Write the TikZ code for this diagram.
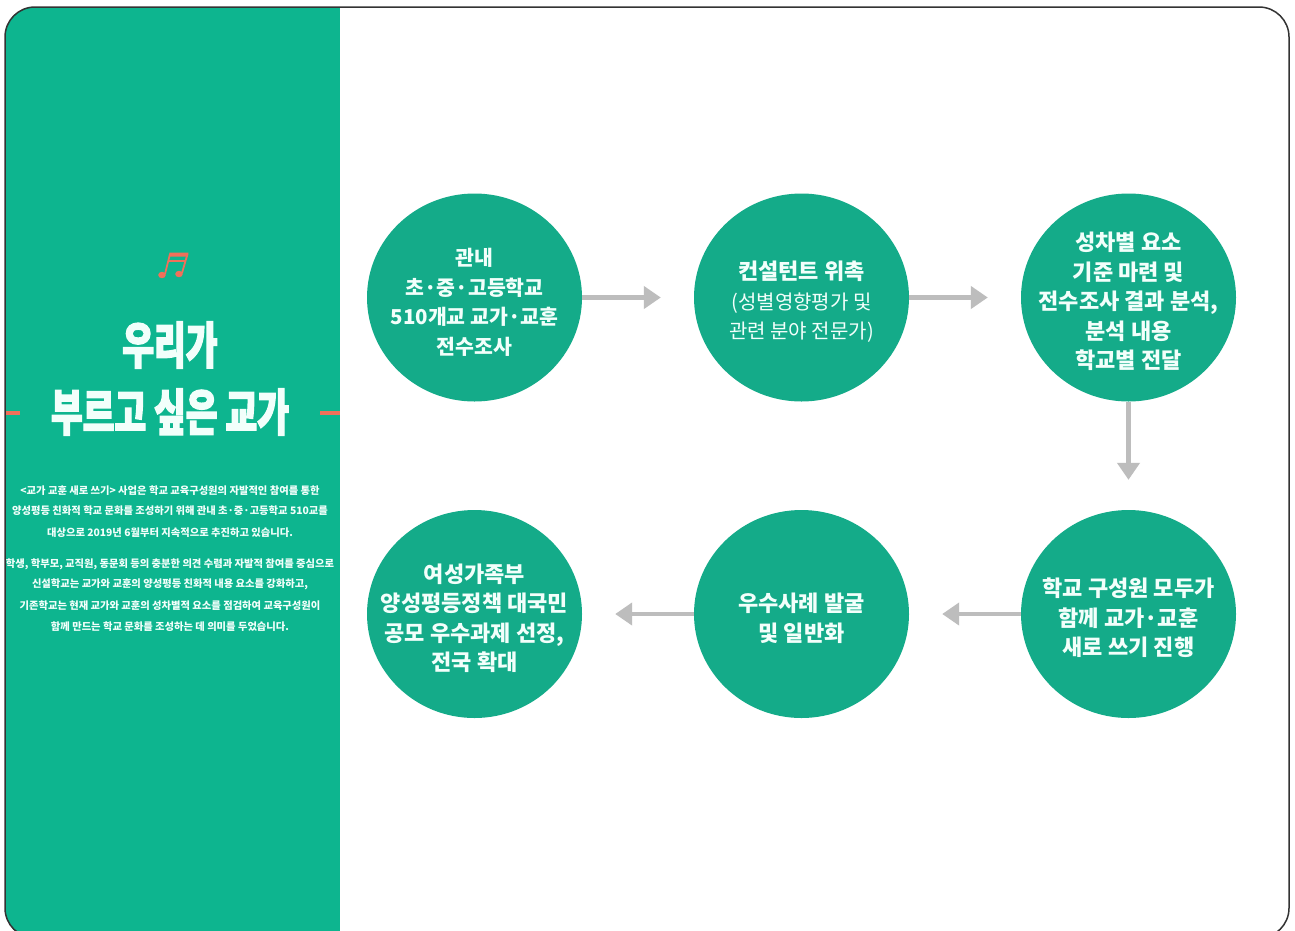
\documentclass[tikz,border=0pt]{standalone}
\usepackage{fontspec}
\newfontfamily\kr{Noto Sans CJK KR}
\newfontfamily\krtitle{Noto Sans CJK KR}[BoldFeatures={FakeStretch=0.69,FakeBold=2.5}]
\usetikzlibrary{arrows.meta,shapes.geometric}
\definecolor{panelgreen}{HTML}{0DB58F}
\definecolor{circgreen}{HTML}{14AB89}
\definecolor{accent}{HTML}{F0705A}
\definecolor{arrowgray}{HTML}{BDBDBD}
\definecolor{edgedark}{HTML}{333333}
\definecolor{softwhite}{HTML}{F2FFFB}
\newcommand{\topgap}{\rule{0pt}{27pt}}
\tikzset{
  bubble/.style={ellipse,fill=circgreen,minimum width=215pt,minimum height=208pt,inner sep=-40pt,align=center,text=softwhite,
    font=\kr\bfseries\fontsize{22}{29.5}\selectfont},
  bubblenarrow/.style={bubble,font=\kr\bfseries\fontsize{20.5}{29.5}\selectfont},
  flow/.style={draw=arrowgray,line width=4.5pt,-{Triangle[length=17pt,width=22pt]}},
  small/.style={text=softwhite,inner sep=0pt,anchor=center,font=\kr\bfseries\fontsize{10.3}{12}\selectfont},
  headline/.style={text=softwhite,inner sep=0pt,anchor=center,font=\krtitle\bfseries\fontsize{50}{55}\selectfont},
  dashmark/.style={fill=accent,draw=none},
  notepart/.style={draw=accent,line width=1.8pt}
}
\begin{document}
\begin{tikzpicture}[x=1pt,y=-1pt]
\useasboundingbox (0,0) rectangle (1295,930);
\clip (0,0) rectangle (1295,930);
\fill[white] (0,0) rectangle (1295,930);
\begin{scope}
  \clip[rounded corners=30pt] (5,7) rectangle (1289,938);
  \fill[panelgreen] (5,7) rectangle (340,938);
  \fill[dashmark] (5,410.5) rectangle (20,414.5);
  \fill[dashmark] (320,410.5) rectangle (340,414.5);
\end{scope}
\draw[edgedark,line width=1.5pt,rounded corners=30pt] (5,7) rectangle (1289,938);
% note
\fill[accent] (162,275) ellipse (3.8pt and 3.2pt);
\fill[accent] (179,274) ellipse (3.8pt and 3.2pt);
\draw[notepart] (165,274) -- (170,254);
\draw[notepart] (182,273) -- (187.5,254);
\fill[accent] (169.5,252.5) -- (188.5,252.5) -- (187.8,256.5) -- (168.8,256.5) -- cycle;
\draw[accent,line width=1.2pt] (168,261) -- (186,261);
% title
\node[headline] (t1) at (170,345) {우리가};
\node[headline] (t2) at (170,412) {부르고 싶은 교가};
% body
\node[small] (p1) at (170,491) {<교가 교훈 새로 쓰기> 사업은 학교 교육구성원의 자발적인 참여를 통한};
\node[small] (p2) at (170,511) {양성평등 친화적 학교 문화를 조성하기 위해 관내 초·중·고등학교 510교를};
\node[small] (p3) at (170,533) {대상으로 2019년 6월부터 지속적으로 추진하고 있습니다.};
\node[small] (p4) at (170,564) {학생, 학부모, 교직원, 동문회 등의 충분한 의견 수렴과 자발적 참여를 중심으로};
\node[small] (p5) at (170,584) {신설학교는 교가와 교훈의 양성평등 친화적 내용 요소를 강화하고,};
\node[small] (p6) at (170,606) {기존학교는 현재 교가와 교훈의 성차별적 요소를 점검하여 교육구성원이};
\node[small] (p7) at (170,627) {함께 만드는 학교 문화를 조성하는 데 의미를 두었습니다.};
% circles
\node[bubblenarrow] (c1) at (474.5,297.5) {\topgap 관내\\초·중·고등학교\\510개교 교가·교훈\\전수조사};
\node[bubble] (c2) at (801.5,297.5) {\topgap 컨설턴트 위촉\\{\mdseries\fontsize{20}{29.5}\selectfont (성별영향평가 및}\\{\mdseries\fontsize{20}{29.5}\selectfont 관련 분야 전문가)}};
\node[bubble] (c3) at (1128.5,297.5) {\topgap 성차별 요소\\기준 마련 및\\전수조사 결과 분석,\\분석 내용\\학교별 전달};
\node[bubble] (c4) at (1128.5,614) {\topgap 학교 구성원 모두가\\함께 교가·교훈\\새로 쓰기 진행};
\node[bubble] (c5) at (801.5,614) {\topgap 우수사례 발굴\\및 일반화};
\node[bubble] (c6) at (474.5,614) {\topgap 여성가족부\\양성평등정책 대국민\\공모 우수과제 선정,\\전국 확대};
% arrows
\draw[flow,shorten >=33pt] (c1) -- (c2);
\draw[flow,shorten >=33pt] (c2) -- (c3);
\draw[flow,shorten >=30pt] (c3) -- (c4);
\draw[flow,shorten >=33pt] (c4) -- (c5);
\draw[flow,shorten >=33pt] (c5) -- (c6);
\end{tikzpicture}
\end{document}
